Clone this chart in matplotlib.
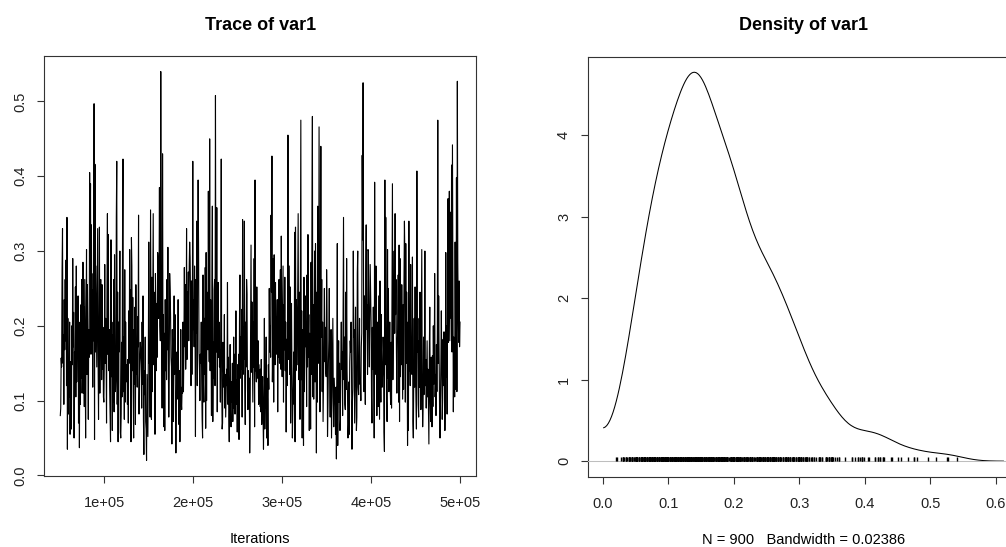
import numpy as np
import matplotlib
matplotlib.use("Agg")
import matplotlib.pyplot as plt

plt.rcParams['font.family'] = ['Liberation Sans', 'DejaVu Sans']

# MCMC chain for var1, 900 kept draws
var1 = np.array([
    0.080, 0.090, 0.157, 0.145, 0.275, 0.330, 0.150, 0.188, 0.095, 0.235, 0.168, 0.262, 0.180, 0.288, 0.120, 0.345, 0.035, 0.210, 0.082, 0.150, 0.105, 0.205, 0.055, 0.152, 0.140,
    0.062, 0.200, 0.148, 0.290, 0.172, 0.218, 0.050, 0.165, 0.140, 0.252, 0.105, 0.280, 0.125, 0.185, 0.160, 0.240, 0.070, 0.205, 0.037, 0.175, 0.095, 0.228, 0.130, 0.262, 0.110,
    0.150, 0.285, 0.110, 0.225, 0.092, 0.262, 0.145, 0.050, 0.205, 0.302, 0.135, 0.255, 0.185, 0.075, 0.195, 0.158, 0.405, 0.305, 0.390, 0.162, 0.335, 0.175, 0.248, 0.118, 0.270,
    0.180, 0.497, 0.048, 0.416, 0.165, 0.280, 0.215, 0.145, 0.250, 0.330, 0.155, 0.075, 0.185, 0.332, 0.110, 0.235, 0.262, 0.210, 0.128, 0.255, 0.142, 0.198, 0.105, 0.098, 0.150,
    0.282, 0.150, 0.210, 0.168, 0.070, 0.250, 0.350, 0.162, 0.322, 0.140, 0.195, 0.118, 0.078, 0.045, 0.315, 0.132, 0.205, 0.060, 0.188, 0.098, 0.262, 0.085, 0.295, 0.120, 0.112,
    0.130, 0.345, 0.420, 0.095, 0.245, 0.045, 0.205, 0.165, 0.190, 0.300, 0.058, 0.050, 0.082, 0.178, 0.105, 0.320, 0.423, 0.112, 0.185, 0.075, 0.275, 0.098, 0.205, 0.125, 0.148,
    0.145, 0.095, 0.155, 0.070, 0.220, 0.150, 0.302, 0.172, 0.248, 0.045, 0.318, 0.280, 0.140, 0.238, 0.112, 0.050, 0.195, 0.122, 0.225, 0.068, 0.255, 0.135, 0.180, 0.118, 0.212,
    0.172, 0.348, 0.082, 0.128, 0.158, 0.178, 0.165, 0.148, 0.090, 0.205, 0.122, 0.240, 0.075, 0.028, 0.140, 0.108, 0.185, 0.072, 0.062, 0.020, 0.135, 0.095, 0.052, 0.160, 0.312,
    0.150, 0.172, 0.078, 0.355, 0.205, 0.075, 0.265, 0.112, 0.225, 0.350, 0.148, 0.245, 0.195, 0.055, 0.270, 0.215, 0.140, 0.230, 0.158, 0.298, 0.285, 0.210, 0.245, 0.385, 0.200,
    0.180, 0.540, 0.282, 0.240, 0.090, 0.430, 0.162, 0.215, 0.065, 0.190, 0.060, 0.235, 0.140, 0.205, 0.128, 0.262, 0.168, 0.305, 0.150, 0.078, 0.132, 0.270, 0.248, 0.215, 0.158,
    0.145, 0.042, 0.195, 0.158, 0.072, 0.152, 0.240, 0.135, 0.215, 0.088, 0.030, 0.082, 0.165, 0.102, 0.132, 0.235, 0.105, 0.068, 0.140, 0.045, 0.128, 0.195, 0.098, 0.088, 0.118,
    0.110, 0.205, 0.112, 0.168, 0.278, 0.172, 0.255, 0.142, 0.185, 0.330, 0.155, 0.245, 0.200, 0.272, 0.180, 0.282, 0.312, 0.292, 0.238, 0.120, 0.260, 0.135, 0.225, 0.420, 0.195,
    0.235, 0.172, 0.280, 0.208, 0.052, 0.262, 0.190, 0.340, 0.120, 0.290, 0.395, 0.305, 0.165, 0.142, 0.100, 0.162, 0.150, 0.205, 0.128, 0.075, 0.050, 0.268, 0.122, 0.098, 0.210,
    0.135, 0.278, 0.063, 0.298, 0.100, 0.245, 0.182, 0.168, 0.380, 0.205, 0.152, 0.450, 0.140, 0.235, 0.195, 0.080, 0.255, 0.360, 0.072, 0.178, 0.130, 0.248, 0.262, 0.120, 0.508,
    0.185, 0.165, 0.358, 0.085, 0.228, 0.258, 0.158, 0.205, 0.145, 0.168, 0.098, 0.235, 0.423, 0.130, 0.062, 0.070, 0.178, 0.140, 0.118, 0.215, 0.090, 0.135, 0.078, 0.112, 0.142,
    0.120, 0.258, 0.095, 0.158, 0.078, 0.045, 0.110, 0.175, 0.088, 0.065, 0.125, 0.098, 0.150, 0.072, 0.115, 0.185, 0.090, 0.162, 0.082, 0.108, 0.220, 0.095, 0.128, 0.058, 0.148,
    0.095, 0.162, 0.048, 0.205, 0.268, 0.130, 0.185, 0.142, 0.222, 0.078, 0.342, 0.135, 0.198, 0.155, 0.340, 0.128, 0.068, 0.205, 0.145, 0.262, 0.242, 0.115, 0.088, 0.140, 0.122,
    0.130, 0.030, 0.082, 0.198, 0.308, 0.138, 0.232, 0.165, 0.098, 0.205, 0.145, 0.290, 0.065, 0.395, 0.140, 0.148, 0.125, 0.252, 0.158, 0.130, 0.180, 0.095, 0.148, 0.122, 0.092,
    0.142, 0.085, 0.155, 0.068, 0.105, 0.132, 0.078, 0.035, 0.095, 0.210, 0.062, 0.118, 0.090, 0.185, 0.050, 0.130, 0.102, 0.040, 0.148, 0.115, 0.250, 0.165, 0.200, 0.158, 0.348,
    0.245, 0.427, 0.125, 0.172, 0.290, 0.098, 0.295, 0.200, 0.148, 0.258, 0.185, 0.212, 0.162, 0.235, 0.085, 0.205, 0.158, 0.262, 0.150, 0.228, 0.275, 0.142, 0.320, 0.210, 0.132,
    0.200, 0.280, 0.098, 0.228, 0.168, 0.265, 0.140, 0.205, 0.058, 0.182, 0.120, 0.190, 0.455, 0.155, 0.215, 0.280, 0.135, 0.252, 0.070, 0.175, 0.230, 0.145, 0.050, 0.092, 0.120,
    0.165, 0.095, 0.325, 0.045, 0.332, 0.140, 0.235, 0.190, 0.148, 0.258, 0.350, 0.128, 0.205, 0.245, 0.075, 0.300, 0.475, 0.128, 0.220, 0.050, 0.195, 0.172, 0.040, 0.265, 0.112,
    0.185, 0.240, 0.172, 0.205, 0.092, 0.268, 0.145, 0.322, 0.158, 0.215, 0.060, 0.190, 0.178, 0.062, 0.285, 0.135, 0.350, 0.480, 0.105, 0.228, 0.102, 0.205, 0.300, 0.125, 0.310,
    0.200, 0.030, 0.245, 0.098, 0.360, 0.168, 0.150, 0.466, 0.295, 0.085, 0.238, 0.440, 0.185, 0.262, 0.112, 0.205, 0.072, 0.125, 0.182, 0.250, 0.152, 0.198, 0.140, 0.132, 0.275,
    0.218, 0.052, 0.092, 0.150, 0.182, 0.250, 0.135, 0.078, 0.165, 0.195, 0.050, 0.102, 0.142, 0.210, 0.105, 0.065, 0.130, 0.112, 0.095, 0.055, 0.118, 0.022, 0.150, 0.310, 0.040,
    0.135, 0.180, 0.098, 0.150, 0.060, 0.075, 0.162, 0.205, 0.142, 0.165, 0.080, 0.225, 0.345, 0.128, 0.185, 0.095, 0.088, 0.245, 0.115, 0.290, 0.140, 0.105, 0.050, 0.068, 0.125,
    0.055, 0.152, 0.180, 0.165, 0.205, 0.142, 0.035, 0.098, 0.115, 0.300, 0.185, 0.195, 0.070, 0.148, 0.225, 0.130, 0.060, 0.078, 0.270, 0.300, 0.118, 0.108, 0.140, 0.210, 0.122,
    0.128, 0.100, 0.172, 0.190, 0.428, 0.315, 0.525, 0.260, 0.112, 0.240, 0.205, 0.095, 0.270, 0.335, 0.195, 0.228, 0.135, 0.302, 0.300, 0.185, 0.145, 0.218, 0.282, 0.240, 0.205,
    0.105, 0.070, 0.198, 0.142, 0.225, 0.165, 0.050, 0.392, 0.135, 0.185, 0.280, 0.150, 0.080, 0.205, 0.128, 0.092, 0.240, 0.158, 0.075, 0.260, 0.145, 0.098, 0.215, 0.130, 0.118,
    0.140, 0.185, 0.168, 0.058, 0.032, 0.395, 0.148, 0.345, 0.198, 0.100, 0.072, 0.302, 0.130, 0.250, 0.112, 0.142, 0.205, 0.118, 0.095, 0.178, 0.090, 0.238, 0.390, 0.128, 0.210,
    0.235, 0.300, 0.190, 0.350, 0.215, 0.262, 0.165, 0.110, 0.178, 0.195, 0.268, 0.098, 0.308, 0.072, 0.290, 0.132, 0.210, 0.148, 0.255, 0.170, 0.102, 0.228, 0.115, 0.260, 0.340,
    0.290, 0.098, 0.310, 0.150, 0.245, 0.172, 0.040, 0.205, 0.060, 0.340, 0.140, 0.195, 0.120, 0.282, 0.162, 0.182, 0.135, 0.292, 0.072, 0.050, 0.122, 0.210, 0.118, 0.252, 0.145,
    0.102, 0.062, 0.407, 0.165, 0.180, 0.095, 0.078, 0.210, 0.118, 0.245, 0.140, 0.088, 0.195, 0.302, 0.125, 0.065, 0.092, 0.185, 0.108, 0.145, 0.300, 0.120, 0.155, 0.090, 0.135,
    0.180, 0.105, 0.142, 0.085, 0.042, 0.165, 0.225, 0.098, 0.072, 0.158, 0.138, 0.065, 0.160, 0.092, 0.200, 0.122, 0.148, 0.270, 0.105, 0.135, 0.080, 0.175, 0.112, 0.190, 0.475,
    0.150, 0.240, 0.168, 0.088, 0.050, 0.098, 0.152, 0.220, 0.138, 0.075, 0.102, 0.182, 0.120, 0.192, 0.145, 0.060, 0.105, 0.298, 0.132, 0.200, 0.082, 0.238, 0.370, 0.178, 0.255,
    0.380, 0.180, 0.265, 0.352, 0.210, 0.415, 0.165, 0.442, 0.245, 0.085, 0.185, 0.138, 0.105, 0.312, 0.195, 0.115, 0.398, 0.112, 0.527, 0.285, 0.222, 0.178, 0.260, 0.172, 0.205,
])

# chain run 50500..500000, thinned every 500
start_iter = 50500
thin = 500
iterations = start_iter + thin * np.arange(len(var1))

bandwidth = 0.02386
density_label = "N = 900   Bandwidth = 0.02386"

trace_xticks = [100000, 200000, 300000, 400000, 500000]
trace_xlabels = ["1e+05", "2e+05", "3e+05", "4e+05", "5e+05"]
trace_yticks = [0.0, 0.1, 0.2, 0.3, 0.4, 0.5]
trace_ylabels = ["0.0", "0.1", "0.2", "0.3", "0.4", "0.5"]
dens_xticks = [0.0, 0.1, 0.2, 0.3, 0.4, 0.5, 0.6]
dens_xlabels = ["0.0", "0.1", "0.2", "0.3", "0.4", "0.5", "0.6"]
dens_yticks = [0, 1, 2, 3, 4]
dens_ylabels = ["0", "1", "2", "3", "4"]

# density of the chain, reflected at zero because the values are positive
refl = np.concatenate([var1, -var1])
grid = np.linspace(refl.min() - 3 * bandwidth, refl.max() + 3 * bandwidth, 512)
kern = np.exp(-0.5 * ((grid[:, None] - refl[None, :]) / bandwidth) ** 2)
dens = kern.sum(axis=1) / (len(refl) * bandwidth * np.sqrt(2 * np.pi))
keep = grid >= 0
dens_x = grid[keep]
dens_y = 2 * dens[keep]


def extend(lo, hi):
    r = hi - lo
    return lo - 0.04 * r, hi + 0.04 * r


W, H = 1006, 547
fig = plt.figure(figsize=(W / 100, H / 100), dpi=100)
pw = 431.7
ax1 = fig.add_axes([44.3 / W, (H - 476) / H, pw / W, 420 / H])
ax2 = fig.add_axes([587.7 / W, (H - 476.7) / H, pw / W, 420 / H])

tick_fs = 10.5
title_fs = 13

# trace
ax1.plot(iterations, var1, color="black", lw=0.8)
ax1.set_xlim(*extend(iterations.min(), iterations.max()))
ax1.set_ylim(*extend(var1.min(), var1.max()))
ax1.set_xticks(trace_xticks, trace_xlabels)
ax1.set_yticks(trace_yticks, trace_ylabels)
ax1.set_title("Trace of var1", fontsize=title_fs, fontweight="bold", pad=19)
ax1.set_xlabel("Iterations", fontsize=tick_fs, labelpad=16)

# density
ax2.plot(dens_x, dens_y, color="black", lw=0.75, zorder=2)
ax2.axhline(0, color="#bebebe", lw=0.75, zorder=3)
ax2.vlines(var1, 0, dens_y.max() / 100, color="black", lw=1.0, zorder=4)
ax2.set_xlim(*extend(dens_x.min(), dens_x.max()))
ax2.set_ylim(*extend(0, dens_y.max()))
ax2.set_xticks(dens_xticks, dens_xlabels)
ax2.set_yticks(dens_yticks, dens_ylabels)
ax2.set_title("Density of var1", fontsize=title_fs, fontweight="bold", pad=19)
ax2.set_xlabel(density_label, fontsize=tick_fs, labelpad=16)

for ax in (ax1, ax2):
    for s in ax.spines.values():
        s.set_linewidth(0.8)
        s.set_color("#333333")
    ax.tick_params(axis="both", length=5, width=0.8, color="#333333",
                   labelsize=tick_fs, labelcolor="#222222")
    ax.tick_params(axis="x", pad=9.5)
    ax.tick_params(axis="y", pad=7, labelrotation=90)
    for lab in ax.get_yticklabels():
        lab.set_va("center")

fig.savefig("out.png", dpi=100)
